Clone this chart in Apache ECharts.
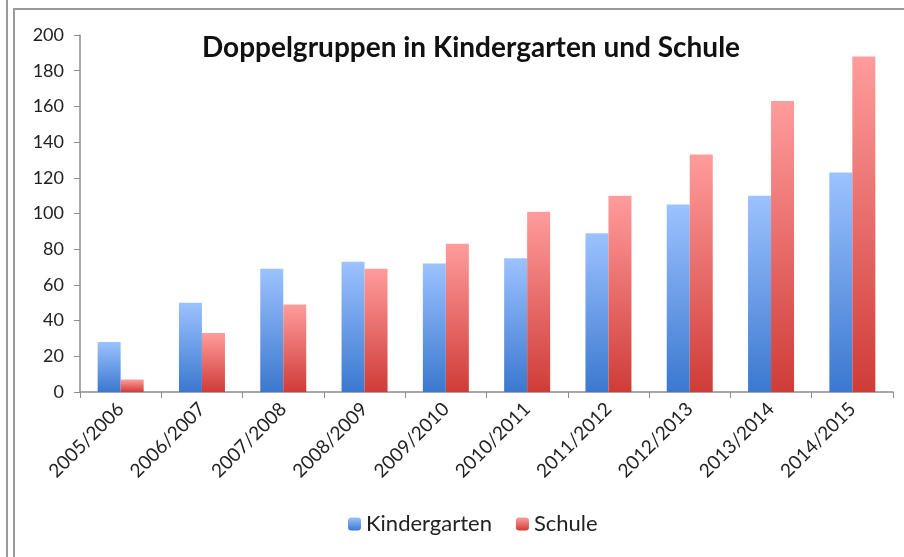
<!DOCTYPE html>
<html>
<head>
<meta charset="utf-8">
<script src="https://cdn.jsdelivr.net/npm/echarts@6/dist/echarts.min.js"></script>
<style>
  html, body { margin: 0; padding: 0; background: #fff; }
  #main { width: 904px; height: 557px; }
</style>
</head>
<body>
<div id="main"></div>
<script>
// Schuljahre
var years = ['2005/2006', '2006/2007', '2007/2008', '2008/2009', '2009/2010',
  '2010/2011', '2011/2012', '2012/2013', '2013/2014', '2014/2015']
// Doppelgruppen
var kindergarten = [28, 50, 69, 73, 72, 75, 89, 105, 110, 123]
var schule = [7, 33, 49, 69, 83, 101, 110, 133, 163, 188]

var font = 'Lato, "Open Sans", sans-serif'

function grad(top, bottom) {
  return new echarts.graphic.LinearGradient(0, 0, 0, 1, [
    { offset: 0, color: top },
    { offset: 1, color: bottom }
  ])
}

var chart = echarts.init(document.getElementById('main'))
chart.setOption({
  animation: false,
  title: {
    text: 'Doppelgruppen in Kindergarten und Schule',
    left: 466,
    textAlign: 'center',
    top: 29,
    textStyle: { fontFamily: font, fontSize: 28, fontWeight: 'bold', color: '#111' }
  },
  legend: {
    top: 508,
    left: 343,
    itemWidth: 13,
    itemHeight: 13,
    itemGap: 24,
    textStyle: { fontFamily: font, fontSize: 22, color: '#222' },
    data: ['Kindergarten', 'Schule']
  },
  grid: { left: 80, right: 11, top: 35, bottom: 165 },
  xAxis: {
    type: 'category',
    data: years,
    axisLine: { lineStyle: { color: '#8c8c8c', width: 1.5 } },
    axisTick: { show: true, length: 6, lineStyle: { color: '#8c8c8c' } },
    axisLabel: { rotate: 45, margin: 14, fontFamily: font, fontSize: 19, color: '#222', interval: 0 }
  },
  yAxis: {
    type: 'value',
    min: 0,
    max: 200,
    interval: 20,
    axisLine: { show: true, lineStyle: { color: '#8c8c8c', width: 1.5 } },
    axisTick: { show: true, length: 6, lineStyle: { color: '#8c8c8c' } },
    axisLabel: { margin: 16, fontFamily: font, fontSize: 18, color: '#222' },
    splitLine: { show: false }
  },
  graphic: [
    { type: 'rect', shape: { x: 6, y: 0, width: 2, height: 557 }, style: { fill: '#9a9a9a' } },
    { type: 'rect', shape: { x: 13, y: 8, width: 2, height: 549 }, style: { fill: '#9a9a9a' } },
    { type: 'rect', shape: { x: 13, y: 8, width: 891, height: 2 }, style: { fill: '#9a9a9a' } }
  ],
  series: [
    {
      name: 'Kindergarten',
      type: 'bar',
      data: kindergarten,
      barWidth: 23,
      barGap: '0%',
      itemStyle: { color: grad('#9cc2ff', '#3b78cf') }
    },
    {
      name: 'Schule',
      type: 'bar',
      data: schule,
      barWidth: 23,
      itemStyle: { color: grad('#ff9c9c', '#cf3c38') }
    }
  ]
})
</script>
</body>
</html>
